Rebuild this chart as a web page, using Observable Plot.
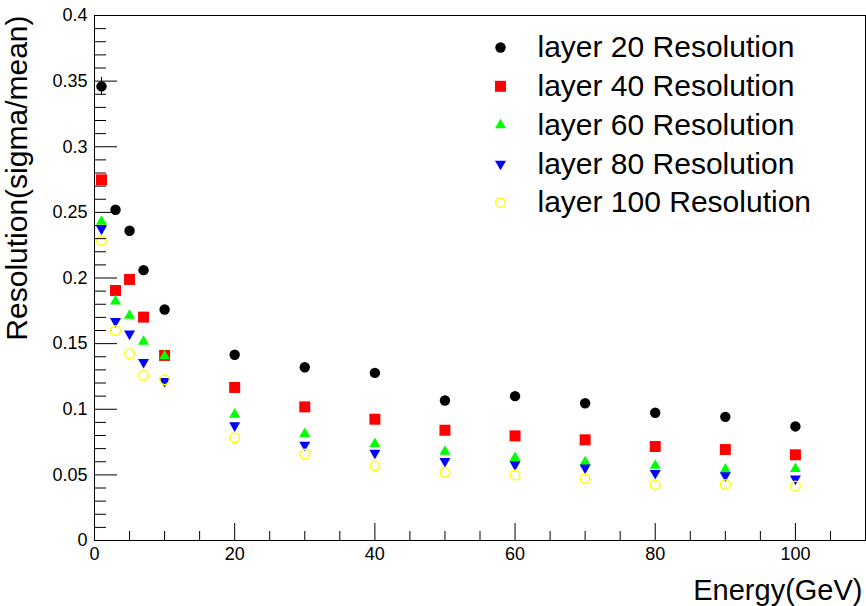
<!DOCTYPE html>
<html>
<head>
<meta charset="utf-8">
<script src="https://cdn.jsdelivr.net/npm/d3@7"></script>
<script src="https://cdn.jsdelivr.net/npm/@observablehq/plot@0.6"></script>
<style>
  body { margin: 0; background: #fff; }
  #chart svg { display: block; }
</style>
</head>
<body>
<div id="chart"></div>
<script>
// Beam energies (GeV)
const energies = [1, 3, 5, 7, 10, 20, 30, 40, 50, 60, 70, 80, 90, 100];

// Energy resolution (sigma/mean) per calorimeter depth
const layer20  = [0.346, 0.252, 0.236, 0.206, 0.176, 0.1415, 0.132, 0.1277, 0.1067, 0.110, 0.1046, 0.0973, 0.0942, 0.0869];
const layer40  = [0.2748, 0.1905, 0.1989, 0.1702, 0.141, 0.1166, 0.1018, 0.0924, 0.084, 0.0797, 0.0767, 0.0716, 0.0693, 0.0653];
const layer60  = [0.243, 0.1823, 0.1714, 0.1516, 0.1405, 0.096, 0.0813, 0.0737, 0.0678, 0.063, 0.0597, 0.0571, 0.0541, 0.0546];
const layer80  = [0.2375, 0.167, 0.1575, 0.1359, 0.1214, 0.0876, 0.0729, 0.0668, 0.0604, 0.0579, 0.0554, 0.0513, 0.0495, 0.047];
const layer100 = [0.2286, 0.16, 0.1422, 0.1257, 0.1224, 0.0782, 0.0658, 0.0569, 0.0518, 0.0498, 0.047, 0.0424, 0.0427, 0.0414];

// Statistical errors on the layer 20 points
const errors20 = [0.0068, 0.003, 0.003, 0.003, 0.0025, 0.002, 0.002, 0.002, 0.002, 0.002, 0.002, 0.002, 0.002, 0.002];

const seriesNames = ["layer 20 Resolution", "layer 40 Resolution", "layer 60 Resolution", "layer 80 Resolution", "layer 100 Resolution"];
const seriesValues = [layer20, layer40, layer60, layer80, layer100];

// Axis ticks
const xMajorTicks = [0, 20, 40, 60, 80, 100];
const xMinorTicks = [5, 10, 15, 25, 30, 35, 45, 50, 55, 65, 70, 75, 85, 90, 95, 105];
const xTickLabels = ["0", "20", "40", "60", "80", "100"];
const yMajorTicks = [0, 0.05, 0.1, 0.15, 0.2, 0.25, 0.3, 0.35, 0.4];
const yMinorTicks = [0.01, 0.02, 0.03, 0.04, 0.06, 0.07, 0.08, 0.09, 0.11, 0.12, 0.13, 0.14,
                     0.16, 0.17, 0.18, 0.19, 0.21, 0.22, 0.23, 0.24, 0.26, 0.27, 0.28, 0.29,
                     0.31, 0.32, 0.33, 0.34, 0.36, 0.37, 0.38, 0.39];
const yTickLabels = ["0", "0.05", "0.1", "0.15", "0.2", "0.25", "0.3", "0.35", "0.4"];

// Marker styles, one per series (ROOT-like full circle, square, triangles, open circle)
const markerStyles = [
  {symbol: "circle",   fill: "#000000", stroke: "none", r: 5.2, rotate: 0},
  {symbol: "square",   fill: "#ff0000", stroke: "none", r: 6.2, rotate: 0},
  {symbol: "triangle", fill: "#00ff00", stroke: "none", r: 4.1, rotate: 0},
  {symbol: "triangle", fill: "#0000ff", stroke: "none", r: 4.1, rotate: 180},
  {symbol: "circle",   fill: "none",    stroke: "#ffff00", r: 4.8, rotate: 0, strokeWidth: 1.5}
];

const W = 866, H = 606;
const mL = 94, mR = 1, mT = 15, mB = 66;
const innerW = W - mL - mR, innerH = H - mT - mB;
const xMajorLen = 17, xMinorLen = 9, yMajorLen = 23, yMinorLen = 12;

const rows = seriesValues.map((vals, s) =>
  energies.map((e, i) => ({series: s, energy: e, value: vals[i]})));
const rows20 = energies.map((e, i) => ({energy: e, value: layer20[i], err: errors20[i]}));

const marks = [];

// Error bars (layer 20)
marks.push(Plot.ruleX(rows20, {x: "energy", y1: d => d.value - d.err, y2: d => d.value + d.err, stroke: "#000", strokeWidth: 1}));

// Data markers
rows.forEach((data, s) => {
  const st = markerStyles[s];
  marks.push(Plot.dot(data, {
    x: "energy", y: "value", r: st.r, symbol: st.symbol, fill: st.fill,
    stroke: st.stroke, strokeWidth: st.strokeWidth || 1, rotate: st.rotate
  }));
});

// Inward ticks
marks.push(Plot.ruleX(xMajorTicks, {x: d => d, insetTop: innerH - xMajorLen, stroke: "#000"}));
marks.push(Plot.ruleX(xMinorTicks, {x: d => d, insetTop: innerH - xMinorLen, stroke: "#000"}));
marks.push(Plot.ruleY(yMajorTicks, {y: d => d, insetRight: innerW - yMajorLen, stroke: "#000"}));
marks.push(Plot.ruleY(yMinorTicks, {y: d => d, insetRight: innerW - yMinorLen, stroke: "#000"}));

// Tick labels
marks.push(Plot.axisX(xMajorTicks, {tickSize: 0, tickPadding: 7, fontSize: 18, label: null,
  tickFormat: d => xTickLabels[xMajorTicks.indexOf(d)]}));
marks.push(Plot.axisY(yMajorTicks, {tickSize: 0, tickPadding: 7, fontSize: 18, label: null,
  tickFormat: d => yTickLabels[yMajorTicks.indexOf(d)]}));

// Frame
marks.push(Plot.frame({stroke: "#000", strokeWidth: 1}));

// Axis titles
marks.push(Plot.text(["Energy(GeV)"], {frameAnchor: "bottom-right", text: d => d, textAnchor: "end",
  lineAnchor: "bottom", fontSize: 29, dx: -3, dy: 59, fill: "#000"}));
marks.push(Plot.text(["Resolution(sigma/mean)"], {frameAnchor: "top-left", text: d => d, rotate: -90,
  textAnchor: "end", lineAnchor: "bottom", fontSize: 30, dx: -68, dy: 0, fill: "#000"}));

// Legend
const legendMarkerX = 406, legendTextX = 443, legendTop = 32, legendStep = 38.8;
seriesNames.forEach((name, s) => {
  const st = markerStyles[s];
  marks.push(Plot.dot([name], {frameAnchor: "top-left", dx: legendMarkerX, dy: legendTop + s * legendStep,
    r: st.r, symbol: st.symbol, fill: st.fill, stroke: st.stroke, strokeWidth: st.strokeWidth || 1, rotate: st.rotate}));
  marks.push(Plot.text([name], {frameAnchor: "top-left", text: d => d, dx: legendTextX, dy: legendTop + s * legendStep,
    textAnchor: "start", lineAnchor: "middle", fontSize: 30, fill: "#000"}));
});

const chart = Plot.plot({
  width: W, height: H,
  marginLeft: mL, marginRight: mR, marginTop: mT, marginBottom: mB,
  style: {fontFamily: "'Liberation Sans', Arial, Helvetica, sans-serif", background: "#fff", color: "#000"},
  x: {domain: [0, 110]},
  y: {domain: [0, 0.4]},
  marks
});
document.getElementById("chart").append(chart);
</script>
</body>
</html>
